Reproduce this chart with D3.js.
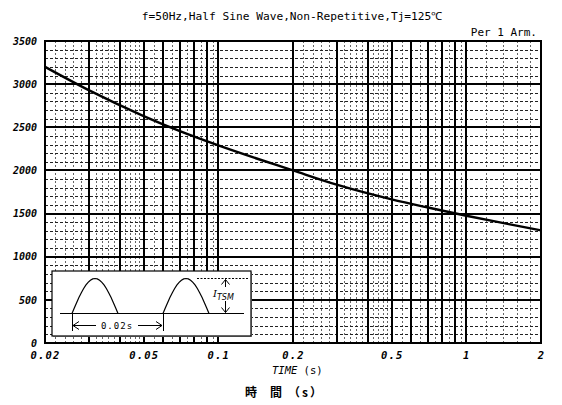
<!DOCTYPE html>
<html>
<head>
<meta charset="utf-8">
<script src="https://cdn.jsdelivr.net/npm/d3@7"></script>
<style>
  body { margin: 0; background: #fff; }
  svg { display: block; }
</style>
</head>
<body>
<svg></svg>
<script>
// surge current curve
const times = [0.02, 0.03, 0.05, 0.07, 0.1, 0.2, 0.3, 0.5, 0.7, 1, 1.5, 2]
const currents = [3200, 2930, 2630, 2455, 2290, 2000, 1835, 1665, 1570, 1475, 1375, 1305]

const xTicks = [0.02, 0.05, 0.1, 0.2, 0.5, 1, 2]
const xTickLabels = ['0.02', '0.05', '0.1', '0.2', '0.5', '1', '2']
const yTicks = [0, 500, 1000, 1500, 2000, 2500, 3000, 3500]

const width = 562
const height = 405
const padLeft = 45, padRight = 541, padTop = 41, padBottom = 343
const mono = '"DejaVu Sans Mono", "Liberation Mono", monospace'

const svg = d3.select('svg')
              .attr('width', width)
              .attr('height', height)
              .style('font-family', mono)

const xScale = d3.scaleLog().domain([0.02, 2]).range([padLeft, padRight])
const yScale = d3.scaleLinear().domain([0, 3500]).range([padBottom, padTop])
const px = v => Math.round(v) + 0.5

// grid lines: solid at 1..9 of each decade, dotted in between
const majorX = [...d3.range(3, 10).map(d => d / 100), ...d3.range(1, 10).map(d => d / 10), 1]
const minorMant = [2.2, 2.4, 2.6, 2.8, 3.2, 3.4, 3.6, 3.8, 4.2, 4.4, 4.6, 4.8, 5.5, 6.5, 7.5, 8.5, 9.5]
const minorX = [...minorMant.map(d => d / 100), ...minorMant.map(d => d / 10), 1.2, 1.4, 1.6, 1.8]
const majorY = yTicks.slice(1, -1)
const minorY = d3.range(0, 3500, 100).filter(d => d % 500 !== 0)

const grid = svg.append('g')

grid.selectAll('.vminor')
    .data(minorX)
    .join('line')
    .attr('x1', d => px(xScale(d))).attr('x2', d => px(xScale(d)))
    .attr('y1', padTop).attr('y2', padBottom)
    .attr('stroke', '#666')
    .attr('stroke-width', 1)
    .attr('stroke-dasharray', '2,2')

grid.selectAll('.hminor')
    .data(minorY)
    .join('line')
    .attr('x1', padLeft).attr('x2', padRight)
    .attr('y1', d => px(yScale(d))).attr('y2', d => px(yScale(d)))
    .attr('stroke', '#222')
    .attr('stroke-width', 1)
    .attr('stroke-dasharray', '3,2')

grid.selectAll('.vmajor')
    .data(majorX)
    .join('line')
    .attr('x1', d => Math.round(xScale(d))).attr('x2', d => Math.round(xScale(d)))
    .attr('y1', padTop).attr('y2', padBottom)
    .attr('stroke', '#000')
    .attr('stroke-width', 2)

grid.selectAll('.hmajor')
    .data(majorY)
    .join('line')
    .attr('x1', padLeft).attr('x2', padRight)
    .attr('y1', d => Math.round(yScale(d))).attr('y2', d => Math.round(yScale(d)))
    .attr('stroke', '#000')
    .attr('stroke-width', 2)

svg.append('rect')
   .attr('x', padLeft).attr('y', padTop)
   .attr('width', padRight - padLeft).attr('height', padBottom - padTop)
   .attr('fill', 'none')
   .attr('stroke', '#000')
   .attr('stroke-width', 2)

// curve
const line = d3.line()
               .x((d, i) => xScale(times[i]))
               .y(d => yScale(d))
               .curve(d3.curveMonotoneX)

svg.append('path')
   .datum(currents)
   .attr('d', line)
   .attr('fill', 'none')
   .attr('stroke', '#000')
   .attr('stroke-width', 2.4)

// axes
const xAxis = d3.axisBottom(xScale)
                .tickValues(xTicks)
                .tickSize(0)
                .tickPadding(9)
                .tickFormat((d, i) => xTickLabels[i])

svg.append('g')
   .attr('transform', `translate(0, ${padBottom})`)
   .call(xAxis)
   .call(g => g.select('.domain').remove())
   .selectAll('text')
   .style('font-family', mono)
   .style('font-size', '10.5px')
   .style('font-style', 'italic')
   .style('font-weight', 'bold')
   .style('letter-spacing', '1.2px')
   .attr('fill', '#000')

const yAxis = d3.axisLeft(yScale)
                .tickValues(yTicks)
                .tickSize(0)
                .tickPadding(8)
                .tickFormat(d3.format('d'))

svg.append('g')
   .attr('transform', `translate(${padLeft}, 0)`)
   .call(yAxis)
   .call(g => g.select('.domain').remove())
   .selectAll('text')
   .style('font-family', mono)
   .style('font-size', '10px')
   .style('font-style', 'italic')
   .style('font-weight', 'bold')
   .attr('fill', '#000')

// titles
svg.append('text')
   .text('f=50Hz,Half Sine Wave,Non-Repetitive,Tj=125\u2103')
   .attr('x', 292).attr('y', 20)
   .attr('text-anchor', 'middle')
   .style('font-size', '11.2px')

svg.append('text')
   .text('Per 1 Arm.')
   .attr('x', 537).attr('y', 36)
   .attr('text-anchor', 'end')
   .style('font-size', '11px')

svg.append('text')
   .attr('x', 272).attr('y', 374)
   .style('font-size', '10.5px')
   .call(t => t.append('tspan').text('TIME').style('font-style', 'italic'))
   .call(t => t.append('tspan').text(' (s)'))

const jpFont = '"Noto Sans CJK JP", sans-serif'
svg.append('text')
   .attr('y', 397)
   .style('font-family', jpFont)
   .style('font-size', '12px')
   .style('font-weight', 'bold')
   .call(t => t.append('tspan').attr('x', 245).text('時'))
   .call(t => t.append('tspan').attr('x', 270).text('間'))
   .call(t => t.append('tspan').attr('x', 288).style('letter-spacing', '2px').text('（s）'))

// inset sketch of the half sine pulses
const inset = svg.append('g')
const box = { x: 52, y: 271, w: 199, h: 65 }
inset.append('rect')
     .attr('x', box.x + 1).attr('y', box.y + 1)
     .attr('width', box.w).attr('height', box.h)
     .attr('fill', '#aaa')
inset.append('rect')
     .attr('x', box.x).attr('y', box.y)
     .attr('width', box.w).attr('height', box.h)
     .attr('fill', '#fff')
     .attr('stroke', '#000')
     .attr('stroke-width', 1.2)

const baseY = 313.5
const peakY = 278.5
const hump = x0 => d3.range(0, 1.0001, 0.05).map(t => [x0 + t * 46, baseY - Math.sin(Math.PI * t) * (baseY - peakY)])
const humpLine = d3.line()
inset.append('line')
     .attr('x1', 60).attr('x2', 244).attr('y1', baseY).attr('y2', baseY)
     .attr('stroke', '#000').attr('stroke-width', 1)
;[72, 163].forEach(x0 => {
  inset.append('path')
       .attr('d', humpLine(hump(x0)))
       .attr('fill', 'none')
       .attr('stroke', '#000')
       .attr('stroke-width', 1.2)
})
inset.append('line')
     .attr('x1', 197).attr('x2', 248).attr('y1', peakY).attr('y2', peakY)
     .attr('stroke', '#000').attr('stroke-dasharray', '2,1.5')

// 0.02s span
inset.selectAll('.tick02')
     .data([72.5, 163.5])
     .join('line')
     .attr('x1', d => d).attr('x2', d => d)
     .attr('y1', baseY).attr('y2', 331)
     .attr('stroke', '#000')
inset.append('line').attr('x1', 73).attr('x2', 96).attr('y1', 325.5).attr('y2', 325.5).attr('stroke', '#000')
inset.append('line').attr('x1', 138).attr('x2', 162).attr('y1', 325.5).attr('y2', 325.5).attr('stroke', '#000')
inset.append('path').attr('d', 'M79,321.5 L73,325.5 L79,329.5').attr('fill', 'none').attr('stroke', '#000')
inset.append('path').attr('d', 'M156,321.5 L162,325.5 L156,329.5').attr('fill', 'none').attr('stroke', '#000')
inset.append('text')
     .text('0.02s')
     .attr('x', 117).attr('y', 329)
     .attr('text-anchor', 'middle')
     .style('font-size', '9px')
     .style('letter-spacing', '1px')

// ITSM arrow
inset.append('line').attr('x1', 225.5).attr('x2', 225.5).attr('y1', peakY + 1).attr('y2', baseY - 1).attr('stroke', '#000')
inset.append('path').attr('d', `M221.5,${peakY + 6} L225.5,${peakY + 1} L229.5,${peakY + 6}`).attr('fill', 'none').attr('stroke', '#000')
inset.append('path').attr('d', `M221.5,${baseY - 6} L225.5,${baseY - 1} L229.5,${baseY - 6}`).attr('fill', 'none').attr('stroke', '#000')
inset.append('rect').attr('x', 212).attr('y', 287).attr('width', 27).attr('height', 14).attr('fill', '#fff')
inset.append('text')
     .attr('x', 213).attr('y', 297)
     .style('font-family', '"DejaVu Serif", serif')
     .style('font-size', '10px')
     .style('font-style', 'italic')
     .call(t => t.append('tspan').text('I'))
     .call(t => t.append('tspan').text('TSM').attr('dy', 2.5).style('font-size', '8px').style('font-family', '"DejaVu Sans", sans-serif'))
</script>
</body>
</html>
